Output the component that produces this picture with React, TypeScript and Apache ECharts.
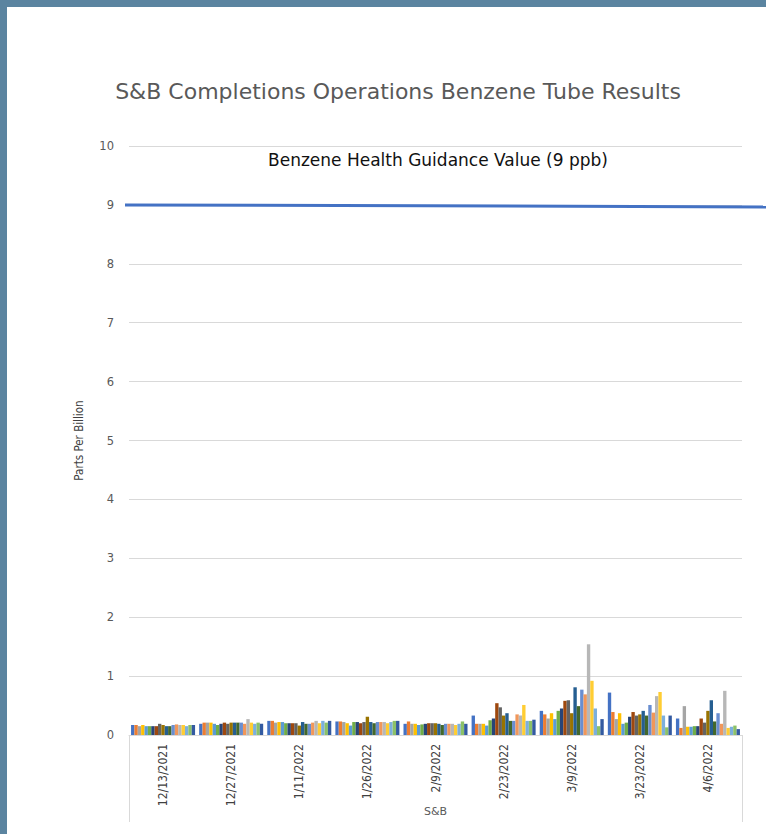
import React, { useEffect, useRef } from "react";
import * as echarts from "echarts";

const chartTitle = "S&B Completions Operations Benzene Tube Results";
const yAxisTitle = "Parts Per Billion";
const xAxisGroup = "S&B";
const guidanceLabel = "Benzene Health Guidance Value (9 ppb)";
const guidanceValue = 9;

const categories = [
  "12/13/2021",
  "12/27/2021",
  "1/11/2022",
  "1/26/2022",
  "2/9/2022",
  "2/23/2022",
  "3/9/2022",
  "3/23/2022",
  "4/6/2022",
];

const seriesColors = [
  "#4472C4", "#ED7D31", "#A5A5A5", "#FFC000", "#5B9BD5", "#70AD47",
  "#264478", "#9E480E", "#636363", "#997300", "#255E91", "#43682B",
  "#698ED0", "#F1975A", "#B7B7B7", "#FFCD33", "#7CAFDD", "#8CC168", "#335AA1",
];

// values per sampling date, one per sampling location (19)
const v20211213 = [0.17, 0.17, 0.15, 0.17, 0.15, 0.15, 0.15, 0.15, 0.19, 0.17, 0.15, 0.15, 0.17, 0.18, 0.17, 0.17, 0.15, 0.17, 0.17];
const v20211227 = [0.19, 0.21, 0.21, 0.21, 0.19, 0.17, 0.19, 0.21, 0.19, 0.21, 0.21, 0.21, 0.21, 0.19, 0.27, 0.21, 0.19, 0.21, 0.19];
const v20220111 = [0.24, 0.24, 0.21, 0.22, 0.22, 0.2, 0.2, 0.2, 0.2, 0.16, 0.22, 0.19, 0.19, 0.21, 0.24, 0.2, 0.24, 0.21, 0.24];
const v20220126 = [0.23, 0.23, 0.22, 0.2, 0.16, 0.22, 0.22, 0.2, 0.22, 0.31, 0.22, 0.2, 0.22, 0.22, 0.22, 0.2, 0.22, 0.24, 0.24];
const v20220209 = [0.19, 0.23, 0.19, 0.19, 0.17, 0.18, 0.19, 0.2, 0.2, 0.2, 0.19, 0.17, 0.19, 0.19, 0.19, 0.17, 0.19, 0.23, 0.19];
const v20220223 = [0.33, 0.19, 0.19, 0.19, 0.16, 0.25, 0.28, 0.54, 0.47, 0.33, 0.37, 0.24, 0.24, 0.35, 0.33, 0.51, 0.24, 0.24, 0.26];
const v20220309 = [0.41, 0.35, 0.28, 0.37, 0.27, 0.41, 0.45, 0.58, 0.59, 0.37, 0.81, 0.49, 0.77, 0.69, 1.54, 0.92, 0.45, 0.15, 0.27];
const v20220323 = [0.72, 0.39, 0.27, 0.37, 0.19, 0.21, 0.31, 0.39, 0.33, 0.35, 0.41, 0.33, 0.51, 0.38, 0.66, 0.73, 0.33, 0.13, 0.33];
const v20220406 = [0.28, 0.12, 0.49, 0.14, 0.14, 0.15, 0.15, 0.28, 0.21, 0.41, 0.59, 0.23, 0.37, 0.19, 0.75, 0.12, 0.14, 0.16, 0.1];

const byDate = [v20211213, v20211227, v20220111, v20220126, v20220209, v20220223, v20220309, v20220323, v20220406];

const yTicks = { min: 0, max: 10, interval: 1 };

export default function App() {
  const ref = useRef<HTMLDivElement>(null);

  useEffect(() => {
    if (!ref.current) return;
    const chart = echarts.init(ref.current, null, { renderer: "svg" });
    const narrow = "'Liberation Sans Narrow', 'DejaVu Sans Condensed', 'Liberation Sans', sans-serif";
    const wide = "'DejaVu Sans', 'Open Sans', sans-serif";
    const gridLeft = 122;
    const gridRight = 24;
    const gridTop = 139;
    const gridBottom = 99;
    const W = 759;
    const H = 827;

    const series = seriesColors.map((color, i) => ({
      name: "Location " + (i + 1),
      type: "bar",
      data: byDate.map((arr) => arr[i]),
      itemStyle: { color },
      barGap: "0%",
      barCategoryGap: "6%",
    }));

    chart.setOption({
      animation: false,
      backgroundColor: "#ffffff",
      grid: { left: gridLeft, right: gridRight, top: gridTop, bottom: gridBottom, containLabel: false },
      xAxis: {
        type: "category",
        data: categories,
        axisLine: { show: true, lineStyle: { color: "#d9d9d9", width: 1 } },
        axisTick: { show: false },
        axisLabel: {
          rotate: 90,
          margin: 9,
          color: "#404040",
          fontSize: 12,
          fontFamily: narrow,
        },
      },
      yAxis: {
        type: "value",
        min: yTicks.min,
        max: yTicks.max,
        interval: yTicks.interval,
        name: yAxisTitle,
        nameLocation: "middle",
        nameGap: 44,
        nameTextStyle: { color: "#404040", fontSize: 11.5, fontFamily: narrow },
        axisLine: { show: false },
        axisTick: { show: false },
        axisLabel: { color: "#595959", fontSize: 11.5, margin: 15, fontFamily: wide },
        splitLine: { lineStyle: { color: "#d9d9d9", width: 1 } },
      },
      series,
    });

    const y9 = chart.convertToPixel({ yAxisIndex: 0 }, guidanceValue) as number;
    const plotBottom = H - gridBottom;
    const plotCenterX = (gridLeft + (W - gridRight)) / 2;

    chart.setOption({
      graphic: [
        {
          type: "text",
          x: 391,
          y: 84,
          style: {
            text: chartTitle,
            fill: "#595959",
            font: "22px 'DejaVu Sans', sans-serif",
            textAlign: "center",
            textVerticalAlign: "middle",
          },
        },
        {
          type: "text",
          x: 431,
          y: 153,
          style: {
            text: guidanceLabel,
            fill: "#111111",
            font: "17px 'DejaVu Sans', sans-serif",
            textAlign: "center",
            textVerticalAlign: "middle",
          },
        },
        {
          type: "text",
          x: plotCenterX,
          y: plotBottom + 76,
          style: {
            text: xAxisGroup,
            fill: "#595959",
            font: "11px 'DejaVu Sans', sans-serif",
            textAlign: "center",
            textVerticalAlign: "middle",
          },
        },
        {
          type: "line",
          shape: { x1: gridLeft - 4, y1: y9, x2: W, y2: y9 + 2 },
          style: { stroke: "#4472C4", lineWidth: 3 },
          z: 100,
        },
        {
          type: "line",
          shape: { x1: gridLeft + 0.5, y1: plotBottom, x2: gridLeft + 0.5, y2: plotBottom + 87 },
          style: { stroke: "#d9d9d9", lineWidth: 1 },
        },
        {
          type: "line",
          shape: { x1: W - gridRight + 0.5, y1: plotBottom, x2: W - gridRight + 0.5, y2: plotBottom + 87 },
          style: { stroke: "#d9d9d9", lineWidth: 1 },
        },
      ],
    });

    return () => chart.dispose();
  }, []);

  return (
    <div style={{ position: "fixed", left: 0, top: 0, width: 766, height: 834, background: "#5b84a0", overflow: "hidden" }}>
      <div ref={ref} style={{ position: "absolute", left: 7, top: 7, width: 759, height: 827, background: "#ffffff" }} />
    </div>
  );
}
